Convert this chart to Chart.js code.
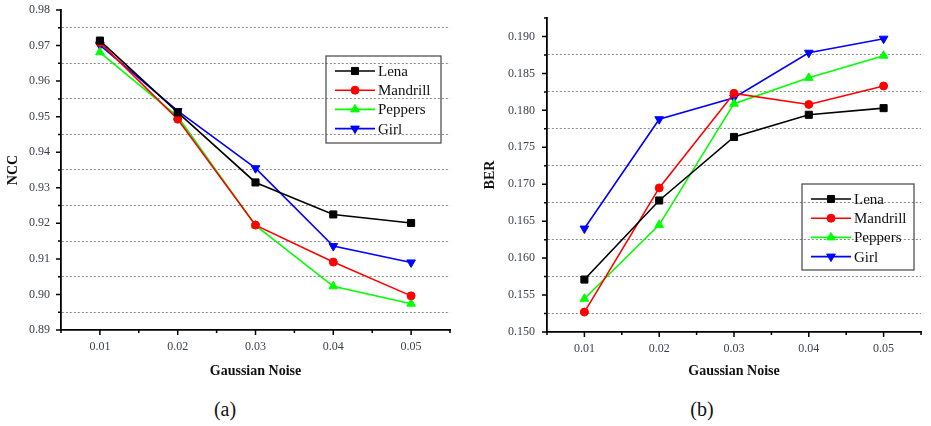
<!DOCTYPE html>
<html>
<head>
<meta charset="utf-8">
<script src="https://cdn.jsdelivr.net/npm/chart.js@4/dist/chart.umd.min.js"></script>
<style>
  body { margin: 0; background: #fff; width: 931px; height: 426px; position: relative; overflow: hidden; }
  .panel { position: absolute; top: 0; }
  .caption { position: absolute; font-family: 'Liberation Serif', serif; font-size: 20px; color: #111; transform: translate(-50%, -50%); }
</style>
</head>
<body>
<div class="panel" style="left:0"><canvas id="nccChart" width="470" height="392"></canvas></div>
<div class="panel" style="left:470px"><canvas id="berChart" width="461" height="392"></canvas></div>
<div class="caption" style="left:225px; top:409px">(a)</div>
<div class="caption" style="left:702px; top:409px">(b)</div>

<script>
// noise levels on the x axis
const noise = [0.01, 0.02, 0.03, 0.04, 0.05];
const names = ['Lena', 'Mandrill', 'Peppers', 'Girl'];

// NCC per image
const nccLena     = [0.9714, 0.9512, 0.9315, 0.9225, 0.9201];
const nccMandrill = [0.9709, 0.9493, 0.9195, 0.9091, 0.8996];
const nccPeppers  = [0.9681, 0.9500, 0.9194, 0.9023, 0.8974];
const nccGirl     = [0.9701, 0.9516, 0.9355, 0.9136, 0.9090];

// BER per image
const berLena     = [0.1571, 0.1678, 0.1764, 0.1794, 0.1803];
const berMandrill = [0.1527, 0.1695, 0.1823, 0.1808, 0.1833];
const berPeppers  = [0.1545, 0.1645, 0.1809, 0.1844, 0.1874];
const berGirl     = [0.1640, 0.1788, 0.1817, 0.1878, 0.1897];

// styles for each series
const colors = ['#000000', '#ff0000', '#00ff00', '#0000ff'];
const markers = ['rect', 'circle', 'triangle', 'triangle'];
const rotations = [0, 0, 0, 180];
const radii = [5, 4, 5, 5];

Chart.defaults.font.family = "'Liberation Serif', serif";
Chart.defaults.color = '#3e4050';

function isMultiple(v, step) {
    const r = v / step;
    return Math.abs(r - Math.round(r)) < 1e-6;
}

function makeSets(series) {
    return series.map((vals, i) => ({
        label: names[i],
        data: vals.map((v, j) => ({x: noise[j], y: v})),
        borderColor: colors[i],
        backgroundColor: colors[i],
        pointStyle: markers[i],
        pointRotation: rotations[i],
        pointRadius: radii[i],
        pointBorderWidth: 1,
        borderWidth: 1.6,
        tension: 0
    }));
}

// short outward tick marks, longer on labelled values
const axisTicks = {
    id: 'axisTicks',
    afterDraw(chart, args, opts) {
        const {ctx, chartArea} = chart;
        const xs = chart.scales.x, ys = chart.scales.y;
        ctx.save();
        ctx.strokeStyle = '#000';
        ctx.lineWidth = 1.5;
        ctx.beginPath();
        xs.ticks.forEach(t => {
            const px = xs.getPixelForValue(t.value);
            const len = isMultiple(t.value, opts.xMajor) ? 5 : 3;
            ctx.moveTo(px, chartArea.bottom);
            ctx.lineTo(px, chartArea.bottom + len);
        });
        ys.ticks.forEach(t => {
            const py = ys.getPixelForValue(t.value);
            const len = isMultiple(t.value, opts.yMajor) ? 5 : 3;
            ctx.moveTo(chartArea.left, py);
            ctx.lineTo(chartArea.left - len, py);
        });
        ctx.stroke();
        ctx.restore();
    }
};

// boxed legend inside the plot
const boxLegend = {
    id: 'boxLegend',
    afterDraw(chart, args, opts) {
        const {ctx} = chart;
        ctx.save();
        ctx.strokeStyle = '#444';
        ctx.lineWidth = 1.2;
        ctx.strokeRect(opts.x, opts.y, opts.w, opts.h);
        ctx.font = "15px 'Liberation Serif', serif";
        ctx.textBaseline = 'middle';
        chart.data.datasets.forEach((ds, i) => {
            const rowY = opts.y + 15 + i * 19.2;
            const x0 = opts.x + 9;
            ctx.strokeStyle = ds.borderColor;
            ctx.fillStyle = ds.backgroundColor;
            ctx.lineWidth = 1.6;
            ctx.beginPath();
            ctx.moveTo(x0, rowY);
            ctx.lineTo(x0 + 40, rowY);
            ctx.stroke();
            ctx.lineWidth = 1;
            Chart.helpers.drawPoint(ctx, {
                pointStyle: ds.pointStyle, rotation: ds.pointRotation,
                radius: ds.pointRadius, borderWidth: 1
            }, x0 + 20, rowY);
            ctx.fillStyle = '#111';
            ctx.fillText(ds.label, x0 + 43, rowY + 1);
        });
        ctx.restore();
    }
};

function makeChart(id, series, cfg) {
    new Chart(document.getElementById(id), {
        type: 'line',
        data: {datasets: makeSets(series)},
        plugins: [axisTicks, boxLegend],
        options: {
            responsive: false,
            animation: false,
            layout: {padding: cfg.padding},
            plugins: {
                legend: {display: false},
                tooltip: {enabled: false},
                axisTicks: {xMajor: 0.01, yMajor: cfg.yMajor},
                boxLegend: cfg.legend
            },
            scales: {
                x: {
                    type: 'linear',
                    min: 0.005,
                    max: 0.055,
                    afterFit: s => { s.height = cfg.xHeight; },
                    grid: {display: false, drawTicks: false},
                    border: {display: true, color: '#000', width: 1.8},
                    ticks: {
                        stepSize: 0.005,
                        autoSkip: false,
                        maxRotation: 0,
                        padding: 10,
                        font: {size: 12},
                        callback: v => isMultiple(v, 0.01) ? v.toFixed(2) : ''
                    },
                    title: {
                        display: true,
                        text: 'Gaussian Noise',
                        color: '#111',
                        font: {size: 14, weight: 'bold'},
                        padding: {top: 0, bottom: 12}
                    }
                },
                y: {
                    min: cfg.yMin,
                    max: cfg.yMax,
                    afterFit: s => {
                        s.width = cfg.yWidth;
                        // let the plot start right at the layout padding
                        s.paddingTop = 0;
                        s.paddingBottom = 0;
                    },
                    grid: {
                        drawTicks: false,
                        lineWidth: 1,
                        color: c => (!isMultiple(c.tick.value, cfg.yMajor) && c.tick.value < cfg.yMax - 1e-6) ? '#8a8a8a' : 'rgba(0,0,0,0)'
                    },
                    border: {display: true, color: '#000', width: 1.8, dash: [2, 2]},
                    ticks: {
                        stepSize: cfg.yMajor / 2,
                        autoSkip: false,
                        padding: cfg.yPad,
                        font: {size: 12},
                        callback: v => isMultiple(v, cfg.yMajor) ? v.toFixed(cfg.digits) : ''
                    },
                    title: {
                        display: true,
                        text: cfg.yTitle,
                        color: '#111',
                        font: {size: 14, weight: 'bold'},
                        padding: {top: cfg.yTitlePad, bottom: 0}
                    }
                }
            }
        }
    });
}

makeChart('nccChart', [nccLena, nccMandrill, nccPeppers, nccGirl], {
    padding: {left: 0, right: 20, top: 10, bottom: 0},
    yMin: 0.89, yMax: 0.98, yMajor: 0.01, digits: 2,
    yWidth: 61, xHeight: 62, yPad: 11, yTitlePad: 5,
    yTitle: 'NCC',
    legend: {x: 326, y: 56, w: 115, h: 87}
});

makeChart('berChart', [berLena, berMandrill, berPeppers, berGirl], {
    padding: {left: 0, right: 4, top: 18, bottom: 0},
    yMin: 0.15, yMax: 0.1925, yMajor: 0.005, digits: 3,
    yWidth: 77, xHeight: 60, yPad: 12, yTitlePad: 12,
    yTitle: 'BER',
    legend: {x: 332, y: 184, w: 112, h: 86}
});
</script>
</body>
</html>
